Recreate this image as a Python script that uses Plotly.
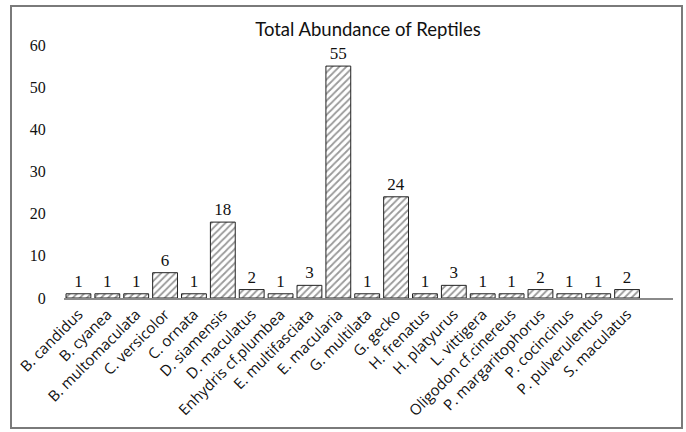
import plotly.graph_objects as go

species = ["B. candidus", "B. cyanea", "B. multomaculata", "C. versicolor", "C. ornata",
           "D. siamensis", "D. maculatus", "Enhydris cf.plumbea", "E. multifasciata",
           "E. macularia", "G. multilata", "G. gecko", "H. frenatus", "H. platyurus",
           "L. vittigera", "Oligodon cf.cinereus", "P. margaritophorus", "P. cocincinus",
           "P. pulverulentus", "S. maculatus"]
abundance = [1, 1, 1, 6, 1, 18, 2, 1, 3, 55, 1, 24, 1, 3, 1, 1, 2, 1, 1, 2]
y_ticks = [0, 10, 20, 30, 40, 50, 60]

L, R, T, B = 64, 13, 45, 134
W, H = 686, 432
pw, ph = W - L - R, H - T - B

fig = go.Figure(go.Bar(
    x=list(range(len(species))),
    y=abundance,
    width=0.86,
    marker=dict(color="white",
                line=dict(color="#222222", width=1),
                pattern=dict(shape="/", fgcolor="#333333", bgcolor="white",
                             size=5, solidity=0.35)),
    text=abundance,
    textposition="outside",
    textfont=dict(family="Liberation Serif", size=17, color="#111111"),
    cliponaxis=False,
))

fig.update_layout(
    width=W, height=H,
    margin=dict(l=L, r=R, t=T, b=B, autoexpand=False),
    paper_bgcolor="white", plot_bgcolor="white",
    showlegend=False,
    title=dict(text="Total Abundance of Reptiles", x=368 / W,
               xanchor="center", y=1 - 30 / H, yanchor="middle",
               font=dict(family="Lato", size=18.5, color="#111111")),
    xaxis=dict(range=[-0.5, 20.59], tickmode="array", automargin=False,
               tickvals=list(range(len(species))), ticktext=species,
               tickangle=-45, showline=True, linecolor="#8a8a8a", linewidth=1.5,
               ticks="", showgrid=False, zeroline=False,
               tickfont=dict(family="Open Sans", size=15, color="#111111")),
    yaxis=dict(range=[0, 60], tickmode="array", tickvals=y_ticks, automargin=False,
               showline=False, showgrid=False, zeroline=False,
               ticks="outside", ticklen=14, tickcolor="rgba(0,0,0,0)",
               tickfont=dict(family="Liberation Serif", size=16, color="#111111")),
    shapes=[dict(type="rect", xref="paper", yref="paper",
                 x0=(11 - L) / pw, x1=(682 - L) / pw,
                 y0=(H - B - 428) / ph, y1=(H - B - 6) / ph,
                 line=dict(color="#7a7a7a", width=2), fillcolor="rgba(0,0,0,0)",
                 layer="below")],
)

fig.write_html("out.html", config={"displayModeBar": False},
               post_script="document.body.style.margin='0';document.body.style.overflow='hidden';")
